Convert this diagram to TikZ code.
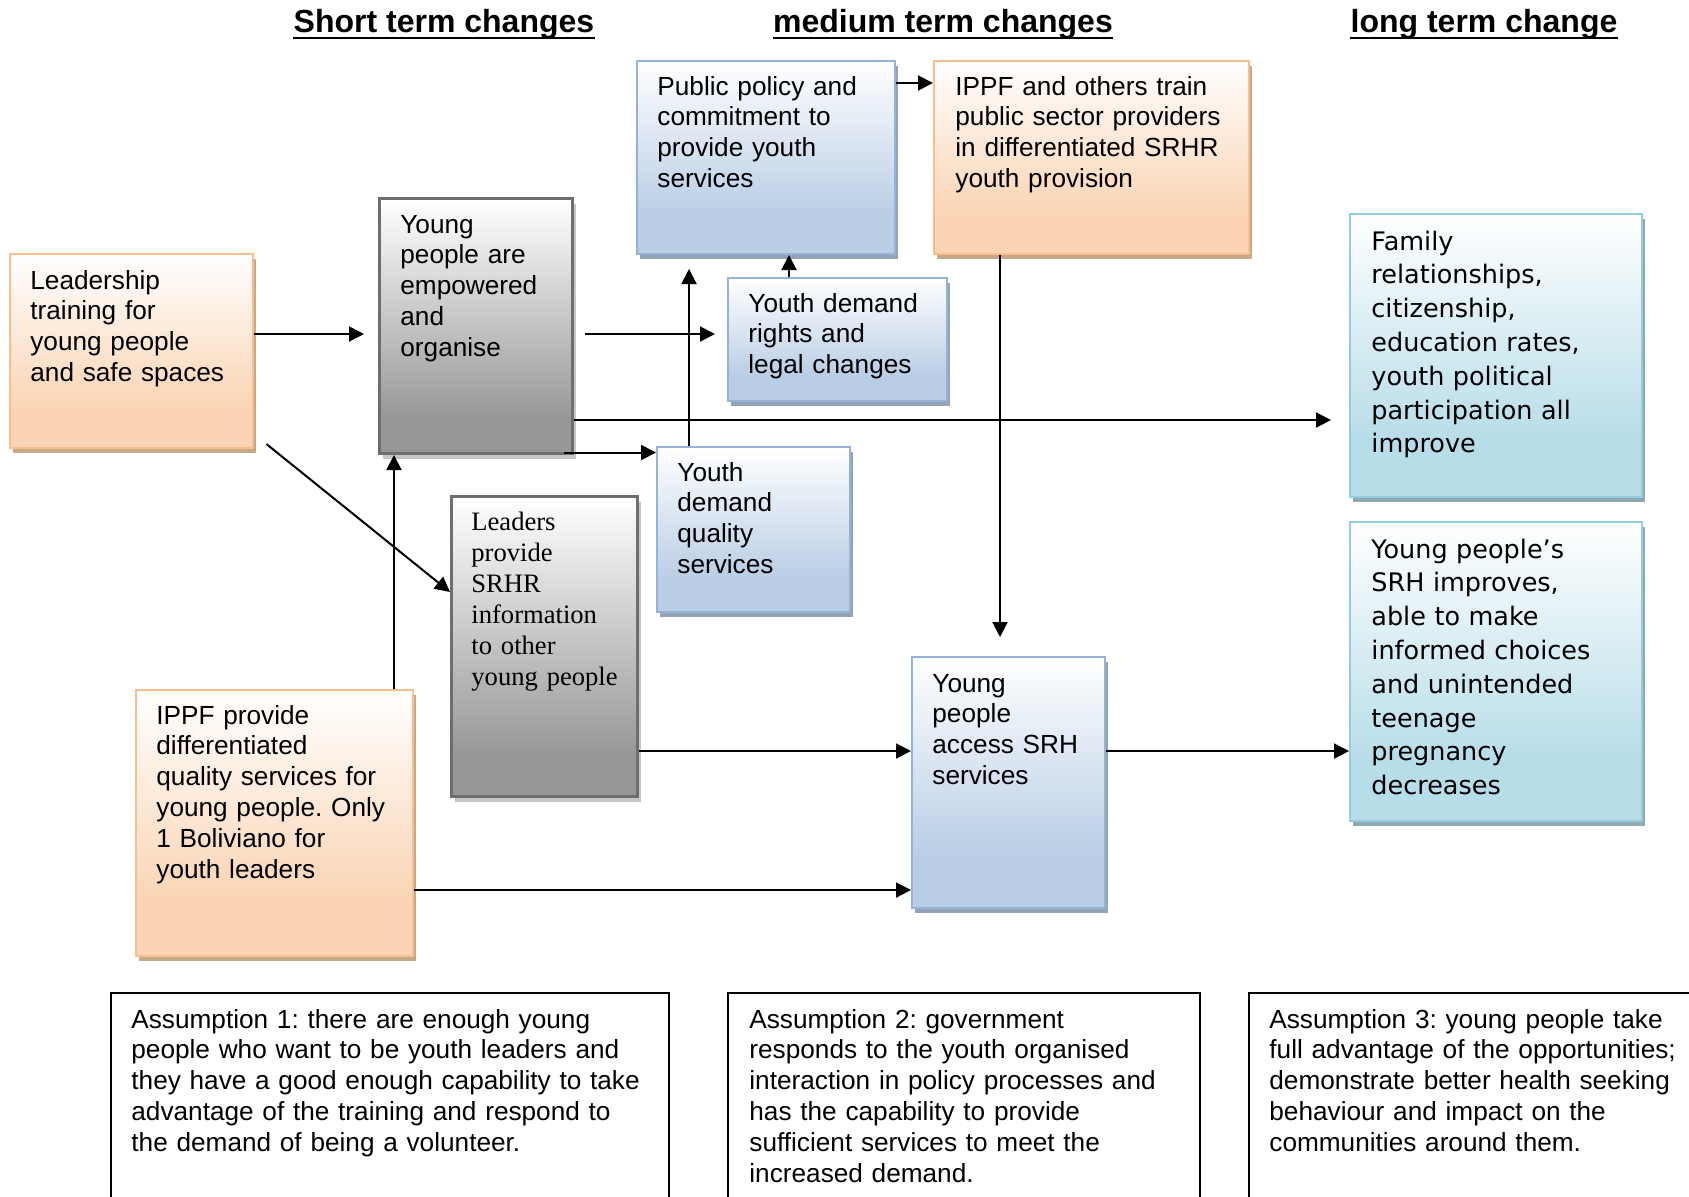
\documentclass[tikz,border=0pt]{standalone}
\usepackage{fontspec}
\setmainfont{Liberation Sans}
\newfontfamily\serifT{Liberation Serif}
\newfontfamily\dejav{DejaVu Sans}
\usetikzlibrary{arrows.meta,shadows}
\frenchspacing
\definecolor{orB}{HTML}{FAD4B4}
\definecolor{orE}{HTML}{F7BE8E}
\definecolor{orS}{HTML}{C9A789}
\definecolor{blB}{HTML}{B9CDE5}
\definecolor{blE}{HTML}{95B3D7}
\definecolor{blS}{HTML}{95A3B6}
\definecolor{tlB}{HTML}{B7DDE8}
\definecolor{tlE}{HTML}{93CDDD}
\definecolor{tlS}{HTML}{8FA9B1}
\definecolor{grB}{HTML}{979797}
\definecolor{grE}{HTML}{6E6E6E}
\definecolor{grS}{HTML}{C6C6C6}
\pgfdeclareverticalshading{orsh}{100bp}{color(0bp)=(orB); color(35bp)=(orB); color(75bp)=(white); color(100bp)=(white)}
\pgfdeclareverticalshading{blsh}{100bp}{color(0bp)=(blB); color(35bp)=(blB); color(75bp)=(white); color(100bp)=(white)}
\pgfdeclareverticalshading{tlsh}{100bp}{color(0bp)=(tlB); color(35bp)=(tlB); color(75bp)=(white); color(100bp)=(white)}
\pgfdeclareverticalshading{grsh}{100bp}{color(0bp)=(grB); color(32bp)=(grB); color(75bp)=(white); color(100bp)=(white)}
\newcommand\mainfs{\fontsize{13.1}{15.4}\selectfont}
\newcommand\serfs{\serifT\fontsize{13.3}{15.5}\selectfont}
\newcommand\dvfs{\dejav\fontsize{12.75}{16.9}\selectfont}
\tikzset{
  bx/.style={rectangle, inner sep=0pt, anchor=north west, line width=1pt},
  obox/.style={bx, draw=orE, shading=orsh, drop shadow={shadow xshift=1.5pt, shadow yshift=-2.5pt, fill=orS, opacity=1}},
  bbox/.style={bx, draw=blE, shading=blsh, drop shadow={shadow xshift=1.5pt, shadow yshift=-2.5pt, fill=blS, opacity=1}},
  tbox/.style={bx, draw=tlE, shading=tlsh, drop shadow={shadow xshift=1.5pt, shadow yshift=-2.5pt, fill=tlS, opacity=1}},
  gbox/.style={bx, draw=grE, line width=1.5pt, shading=grsh, drop shadow={shadow xshift=1.5pt, shadow yshift=-2.5pt, fill=grS, opacity=1}},
  abox/.style={rectangle, inner sep=0pt, anchor=north west, draw=black, line width=0.8pt},
  tx/.style={anchor=base west, inner sep=0pt, align=left, text width=320pt, font=\mainfs},
  hd/.style={anchor=base, inner sep=0pt, font=\bfseries\fontsize{16}{19}\selectfont},
  arr/.style={line width=1pt, -{Triangle[length=7.5pt,width=7.5pt]}},
}
\begin{document}
\begin{tikzpicture}[x=0.5pt,y=-0.5pt]
\useasboundingbox[fill=white] (0,0) rectangle (1689,1196);

% headers
\node[hd] (h1) at (444,32) {Short term changes};
\node[hd] (h2) at (943,32) {medium term changes};
\node[hd] (h3) at (1484,32) {long term change};
\foreach \h in {h1,h2,h3}{
  \draw[line width=1pt] ([yshift=-3.2pt]\h.base west) -- ([yshift=-3.2pt]\h.base east);
}

% boxes
\node[obox, minimum width=121.5pt, minimum height=97pt] (lead) at (9,253) {};
\node[gbox, minimum width=96.5pt, minimum height=127.5pt] (young) at (378,197) {};
\node[bbox, minimum width=129pt, minimum height=96.5pt] (policy) at (636,60) {};
\node[obox, minimum width=157.5pt, minimum height=96.5pt] (train) at (933,60) {};
\node[bbox, minimum width=109.5pt, minimum height=61.5pt] (rights) at (727,277) {};
\node[bbox, minimum width=96.5pt, minimum height=82.5pt] (quality) at (656,446) {};
\node[gbox, minimum width=93pt, minimum height=150pt] (leaders) at (450,495) {};
\node[obox, minimum width=138.5pt, minimum height=133pt] (ippf) at (135,689) {};
\node[bbox, minimum width=96.5pt, minimum height=125.5pt] (access) at (911,656) {};
\node[tbox, minimum width=146pt, minimum height=141.5pt] (family) at (1349,213) {};
\node[tbox, minimum width=146pt, minimum height=149.5pt] (srh) at (1349,521) {};

% texts
\node[tx] (leadt) at (30,289) {Leadership\\training for\\young people\\and safe spaces};
\node[tx] (youngt) at (400,233) {Young\\people are\\empowered\\and\\organise};
\node[tx] (policyt) at (657,95) {Public policy and\\commitment to\\provide youth\\services};
\node[tx] (traint) at (955,95) {IPPF and others train\\public sector providers\\in differentiated SRHR\\youth provision};
\node[tx] (rightst) at (748,312) {Youth demand\\rights and\\legal changes};
\node[tx] (qualityt) at (677,481) {Youth\\demand\\quality\\services};
\node[tx, font=\serfs] (leaderst) at (471,530) {Leaders\\provide\\SRHR\\information\\to other\\young people};
\node[tx] (ippft) at (156,724) {IPPF provide\\differentiated\\quality services for\\young people. Only\\1 Boliviano for\\youth leaders};
\node[tx] (accesst) at (932,692) {Young\\people\\access SRH\\services};
\node[tx, font=\dvfs] (familyt) at (1371,250) {Family\\relationships,\\citizenship,\\education rates,\\youth political\\participation all\\improve};
\node[tx, font=\dvfs] (srht) at (1371,558) {Young people’s\\SRH improves,\\able to make\\informed choices\\and unintended\\teenage\\pregnancy\\decreases};

% connectors
\draw[arr, shorten >=7pt] (lead.east |- 0,334) -- (young.west |- 0,334);
\draw[arr, shorten <=5.5pt, shorten >=6pt] (young.east |- 0,334) -- (rights.west |- 0,334);
\draw[arr, shorten >=7pt] (quality.north -| 689,0) -- (policy.south -| 689,0);
\draw[arr] (rights.north -| 789,0) -- (policy.south -| 789,0);
\draw[arr] (policy.east |- 0,83) -- (train.west |- 0,83);
\draw[arr, shorten >=9.5pt] (train.south -| 1000,0) -- (access.north -| 1000,0);
\draw[arr, shorten >=9pt] (young.east |- 0,420) -- (family.west |- 0,420);
\draw[arr] ([xshift=-5pt]young.east |- 0,452.5) -- (quality.west |- 0,452.5);
\draw[arr] (ippf.north -| 394,0) -- (young.south -| 394,0);
\draw[arr, shorten <=8pt] (lead.east |- 0,434) -- (leaders.west |- 0,592);
\draw[arr] (leaders.east |- 0,751) -- (access.west |- 0,751);
\draw[arr] (ippf.east |- 0,890) -- (access.west |- 0,890);
\draw[arr] (access.east |- 0,751) -- (srh.west |- 0,751);

% assumptions
\begin{scope}
\clip (0,0) rectangle (1689,1196);
\node[abox, minimum width=279pt, minimum height=130pt] (as1) at (110,992) {};
\node[abox, minimum width=236pt, minimum height=130pt] (as2) at (727,992) {};
\node[abox, minimum width=240pt, minimum height=130pt] (as3) at (1248,992) {};
\end{scope}
\node[tx] (as1t) at (131,1028) {Assumption 1: there are enough young\\people who want to be youth leaders and\\they have a good enough capability to take\\advantage of the training and respond to\\the demand of being a volunteer.};
\node[tx] (as2t) at (749,1028) {Assumption 2: government\\responds to the youth organised\\interaction in policy processes and\\has the capability to provide\\sufficient services to meet the\\increased demand.};
\node[tx] (as3t) at (1269,1028) {Assumption 3: young people take\\full advantage of the opportunities;\\demonstrate better health seeking\\behaviour and impact on the\\communities around them.};
\end{tikzpicture}
\end{document}
